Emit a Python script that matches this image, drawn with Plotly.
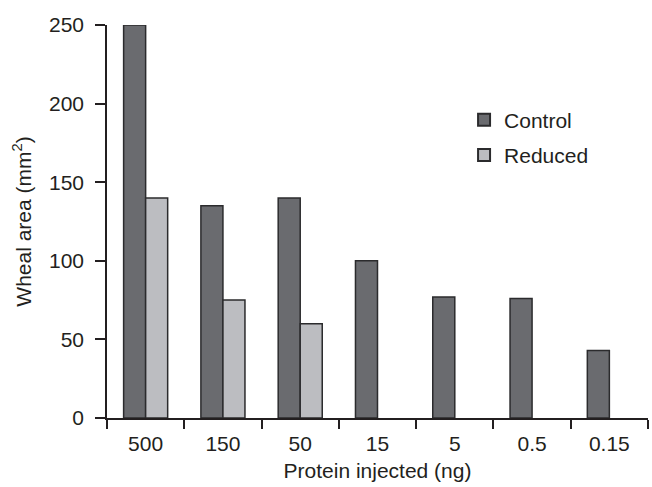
import plotly.graph_objects as go

categories = ["500", "150", "50", "15", "5", "0.5", "0.15"]
control = [250, 135, 140, 100, 77, 76, 43]
reduced = [140, 75, 60, None, None, None, None]
y_ticks = [0, 50, 100, 150, 200, 250]

FONT = "Liberation Sans, Arial, Helvetica, sans-serif"
TXT = "#231f20"
EDGE = "#2b2b2d"
FS = 21

fig = go.Figure()
fig.add_trace(go.Bar(
    x=categories, y=control, name="Control", legendgroup="c",
    marker=dict(color="#6a6b6f", line=dict(color=EDGE, width=1.5)),
))
fig.add_trace(go.Bar(
    x=categories, y=reduced, name="Reduced", legendgroup="r",
    marker=dict(color="#bcbdc1", line=dict(color=EDGE, width=1.5)),
))

fig.update_layout(
    width=652, height=487,
    margin=dict(l=107, r=4, t=25, b=69),
    paper_bgcolor="white", plot_bgcolor="white",
    barmode="group", bargap=0.43, bargroupgap=0,
    font=dict(family=FONT, size=FS, color=TXT),
    showlegend=True,
    legend=dict(
        x=0.66, y=0.81, xanchor="left", yanchor="top",
        bgcolor="rgba(0,0,0,0)", font=dict(size=FS, color=TXT),
        itemsizing="constant", tracegroupgap=5,
    ),
    xaxis=dict(
        type="category", range=[-0.5, 6.5],
        showline=True, linecolor=TXT, linewidth=1.5,
        ticks="outside", tickson="boundaries", ticklen=9, tickwidth=1.5, tickcolor=TXT,
        ticklabelstandoff=6, tickfont=dict(size=FS),
        showgrid=False, zeroline=False,
        title=dict(text="Protein injected (ng)", standoff=9, font=dict(size=FS)),
    ),
    yaxis=dict(
        range=[0, 250], tickvals=y_ticks,
        showline=True, linecolor=TXT, linewidth=1.5,
        ticks="outside", ticklen=10, tickwidth=1.5, tickcolor=TXT,
        ticklabelstandoff=7, tickfont=dict(size=FS),
        showgrid=False, zeroline=False,
        title=dict(text="Wheal area (mm<sup>2</sup>)", standoff=12, font=dict(size=FS)),
    ),
)

fig.write_html("out.html")
